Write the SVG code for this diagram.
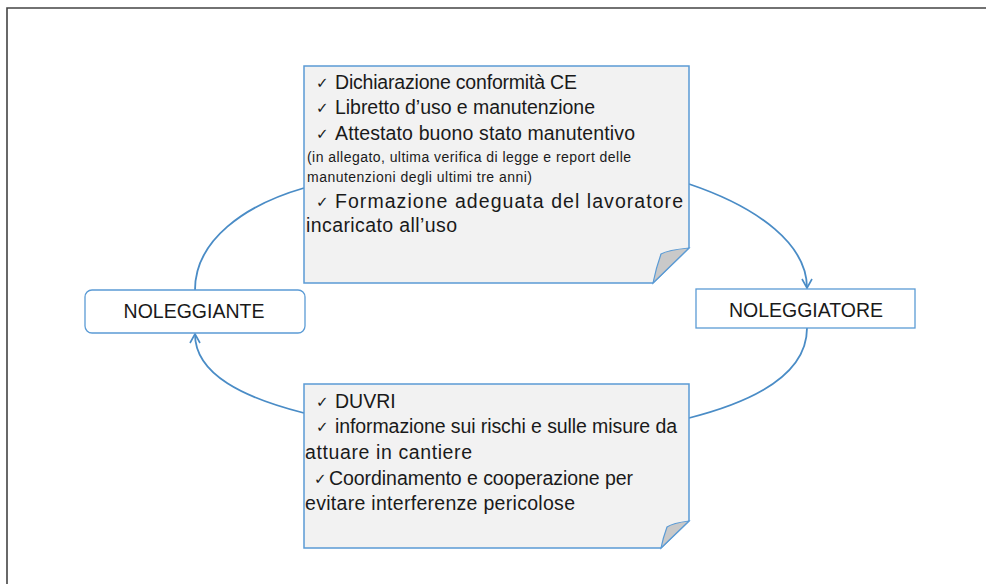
<svg xmlns="http://www.w3.org/2000/svg" width="986" height="584" viewBox="0 0 986 584">
<defs>
<style>
.note{fill:#f2f2f2;stroke:#5b9bd5;stroke-width:1.5}
.fold{fill:#c9c9c9;stroke:#5b9bd5;stroke-width:1.2}
.box{fill:#ffffff;stroke:#5b9bd5;stroke-width:1.3}
.t{font-family:"Liberation Sans",Arial,sans-serif;font-size:19.5px;fill:#1a1a1a}
.ck{font-family:"DejaVu Sans",sans-serif;font-size:15px;fill:#1a1a1a}
.s{font-family:"Liberation Sans",Arial,sans-serif;font-size:14px;fill:#1a1a1a}
.lbl{font-family:"Liberation Sans",Arial,sans-serif;font-size:19.5px;fill:#1a1a1a;text-anchor:middle}
.conn{fill:none;stroke:#4a8cc6;stroke-width:1.8}
</style>
<marker id="arr" viewBox="0 0 12 12" refX="10" refY="6" markerWidth="12" markerHeight="12" markerUnits="userSpaceOnUse" orient="auto">
<path d="M1,1 L10,6 L1,11" fill="none" stroke="#4a8cc6" stroke-width="1.6"/>
</marker>
</defs>
<rect width="986" height="584" fill="#ffffff"/>
<path d="M7,584 L7,8 L986,8" fill="none" stroke="#444" stroke-width="1.6"/>
<g id="connectors">
<path class="conn" d="M195,290 C195,240 245,205 304,188"/>
<path class="conn" d="M689,184 C760,208 807,245 807,288" marker-end="url(#arr)"/>
<path class="conn" d="M807,328 C807,372 760,400 689,418"/>
<path class="conn" d="M304,413 C245,398 195,375 195,334" marker-end="url(#arr)"/>
</g>
<g id="note-top">
<path class="note" d="M304,66 L689,66 L689,248 L653,283 L304,283 Z"/>
<path class="fold" d="M689,248 Q668,250 661,254 Q656,268 653,283 Z"/>
<text class="ck" x="316" y="88">✓</text>
<text class="t" x="335" y="89" textLength="242" lengthAdjust="spacing">Dichiarazione conformità CE</text>
<text class="ck" x="316" y="113">✓</text>
<text class="t" x="335" y="114" textLength="260" lengthAdjust="spacing">Libretto d’uso e manutenzione</text>
<text class="ck" x="316" y="139">✓</text>
<text class="t" x="335" y="140" textLength="300" lengthAdjust="spacing">Attestato buono stato manutentivo</text>
<text class="s" x="307" y="162" textLength="324" lengthAdjust="spacing">(in allegato, ultima verifica di legge e report delle</text>
<text class="s" x="307" y="182" textLength="225" lengthAdjust="spacing">manutenzioni degli ultimi tre anni)</text>
<text class="ck" x="316" y="207">✓</text>
<text class="t" x="335" y="208" textLength="348" lengthAdjust="spacing">Formazione adeguata del lavoratore</text>
<text class="t" x="306" y="232" textLength="151" lengthAdjust="spacing">incaricato all’uso</text>
</g>
<g id="note-bottom">
<path class="note" d="M304,384 L689,384 L689,521 L661,548 L304,548 Z"/>
<path class="fold" d="M689,521 Q673,523 667,527 Q663,538 661,548 Z"/>
<text class="ck" x="316" y="407">✓</text>
<text class="t" x="335" y="408">DUVRI</text>
<text class="ck" x="316" y="432">✓</text>
<text class="t" x="335" y="433" textLength="342" lengthAdjust="spacing">informazione sui rischi e sulle misure da</text>
<text class="t" x="305" y="459" textLength="167" lengthAdjust="spacing">attuare in cantiere</text>
<text class="ck" x="314" y="484">✓</text>
<text class="t" x="329" y="485" textLength="304" lengthAdjust="spacing">Coordinamento e cooperazione per</text>
<text class="t" x="305" y="510" textLength="270" lengthAdjust="spacing">evitare interferenze pericolose</text>
</g>
<g id="noleggiante">
<rect class="box" x="85" y="290" width="220" height="43" rx="7"/>
<text class="lbl" x="194" y="318">NOLEGGIANTE</text>
</g>
<g id="noleggiatore">
<rect class="box" x="696" y="289" width="219" height="39"/>
<text class="lbl" x="806" y="317">NOLEGGIATORE</text>
</g>
</svg>
